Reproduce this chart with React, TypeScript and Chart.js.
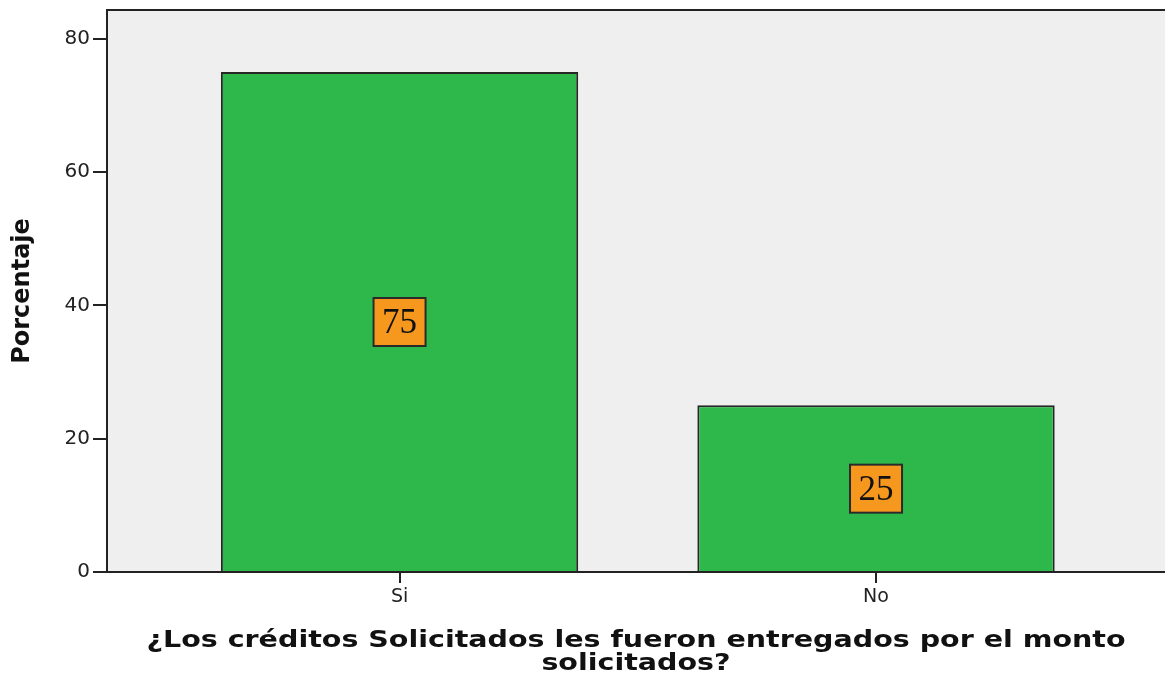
import React, { useEffect, useRef } from "react";
import { Chart, registerables } from "chart.js";

Chart.register(...registerables);

const categories = ["Si", "No"];
const percentages = [75, 25];
const yTickValues = [0, 20, 40, 60, 80];
const yAxisTitle = "Porcentaje";
const xAxisTitle = [
  "¿Los créditos Solicitados les fueron entregados por el monto",
  "solicitados?",
];

const backgroundPlugin = {
  id: "plotBackground",
  beforeDraw(chart: any) {
    const { ctx, chartArea } = chart;
    if (!chartArea) return;
    ctx.save();
    ctx.fillStyle = "#efefef";
    ctx.fillRect(chartArea.left, chartArea.top, chartArea.right - chartArea.left, chartArea.bottom - chartArea.top);
    ctx.restore();
  },
  afterDraw(chart: any) {
    const { ctx, chartArea } = chart;
    ctx.save();
    ctx.strokeStyle = "#222";
    ctx.lineWidth = 2;
    ctx.beginPath();
    ctx.moveTo(chartArea.left - 1, chartArea.top);
    ctx.lineTo(chartArea.right, chartArea.top);
    ctx.stroke();
    // x-axis title, drawn with a horizontal stretch like the reference
    const cx = (chartArea.left + chartArea.right) / 2;
    ctx.fillStyle = "#111";
    ctx.font = "bold 23px 'DejaVu Sans'";
    ctx.textAlign = "center";
    ctx.textBaseline = "middle";
    xAxisTitle.forEach((line, i) => {
      ctx.save();
      ctx.translate(cx, chartArea.bottom + 69 + i * 23);
      ctx.scale(1.24, 1);
      ctx.fillText(line, 0, 0);
      ctx.restore();
    });
    ctx.restore();
  },
};

const valueLabelPlugin = {
  id: "valueLabels",
  afterDatasetsDraw(chart: any) {
    const { ctx } = chart;
    const xs = chart.scales.x;
    const ys = chart.scales.y;
    ctx.save();
    percentages.forEach((v, i) => {
      const cx = xs.getPixelForValue(i);
      const cy = ys.getPixelForValue(v / 2);
      const w = 52;
      const h = 48;
      ctx.fillStyle = "#f7981e";
      ctx.fillRect(cx - w / 2, cy - h / 2, w, h);
      ctx.strokeStyle = "#2a2a2a";
      ctx.lineWidth = 2;
      ctx.strokeRect(cx - w / 2, cy - h / 2, w, h);
      ctx.fillStyle = "#111";
      ctx.font = "35px 'Liberation Serif'";
      ctx.textAlign = "center";
      ctx.textBaseline = "middle";
      ctx.fillText(String(v), cx, cy + 2);
    });
    ctx.restore();
  },
};

export default function App() {
  const canvasRef = useRef<HTMLCanvasElement | null>(null);

  useEffect(() => {
    if (!canvasRef.current) return;
    Chart.defaults.font.family = "'DejaVu Sans'";
    const chart = new Chart(canvasRef.current, {
      type: "bar",
      data: {
        datasets: [
          {
            data: categories.map((c, i) => ({ x: i, y: percentages[i] })),
            backgroundColor: "#2eb84b",
            borderColor: "#262626",
            borderWidth: 2,
            barPercentage: 0.75,
            categoryPercentage: 1,
          },
        ],
      },
      options: {
        animation: false,
        responsive: false,
        maintainAspectRatio: false,
        layout: { padding: { top: 10, right: 0, bottom: 0, left: 0 } },
        plugins: {
          legend: { display: false },
          tooltip: { enabled: false },
        },
        scales: {
          x: {
            type: "linear",
            offset: false,
            min: -0.614,
            max: 1.6065,
            afterBuildTicks: (scale: any) => {
              scale.ticks = categories.map((c, i) => ({ value: i }));
            },
            afterFit: (scale: any) => {
              scale.height = 110;
              scale.paddingLeft = 0;
              scale.paddingRight = 0;
            },
            ticks: {
              callback: (value: any) => categories[value] ?? "",
              color: "#222",
              font: { size: 19 },
              padding: 3,
              maxRotation: 0,
            },
            grid: {
              display: true,
              offset: false,
              drawOnChartArea: false,
              drawTicks: true,
              tickLength: 11,
              color: "#222",
              lineWidth: 2,
            },
            border: { display: true, color: "#222", width: 2 },
            title: { display: false },
          },
          y: {
            min: 0,
            max: 84.3,
            afterBuildTicks: (scale: any) => {
              scale.ticks = yTickValues.map((v) => ({ value: v }));
            },
            afterFit: (scale: any) => {
              scale.width = 107;
              scale.paddingTop = 0;
              scale.paddingBottom = 0;
            },
            ticks: {
              color: "#222",
              font: { size: 20 },
              padding: 3,
            },
            grid: {
              display: true,
              drawOnChartArea: false,
              drawTicks: true,
              tickLength: 14,
              color: "#222",
              lineWidth: 2,
            },
            border: { display: true, color: "#222", width: 2 },
            title: {
              display: true,
              text: yAxisTitle,
              color: "#111",
              font: { size: 24, weight: "bold", lineHeight: 1.1 },
              padding: { top: 10, bottom: 0 },
            },
          },
        },
      },
      plugins: [backgroundPlugin, valueLabelPlugin],
    });
    return () => chart.destroy();
  }, []);

  return (
    <div style={{ position: "absolute", left: 0, top: 0, width: 1165, height: 682, background: "#fff" }}>
      <canvas ref={canvasRef} width={1165} height={682} />
    </div>
  );
}
